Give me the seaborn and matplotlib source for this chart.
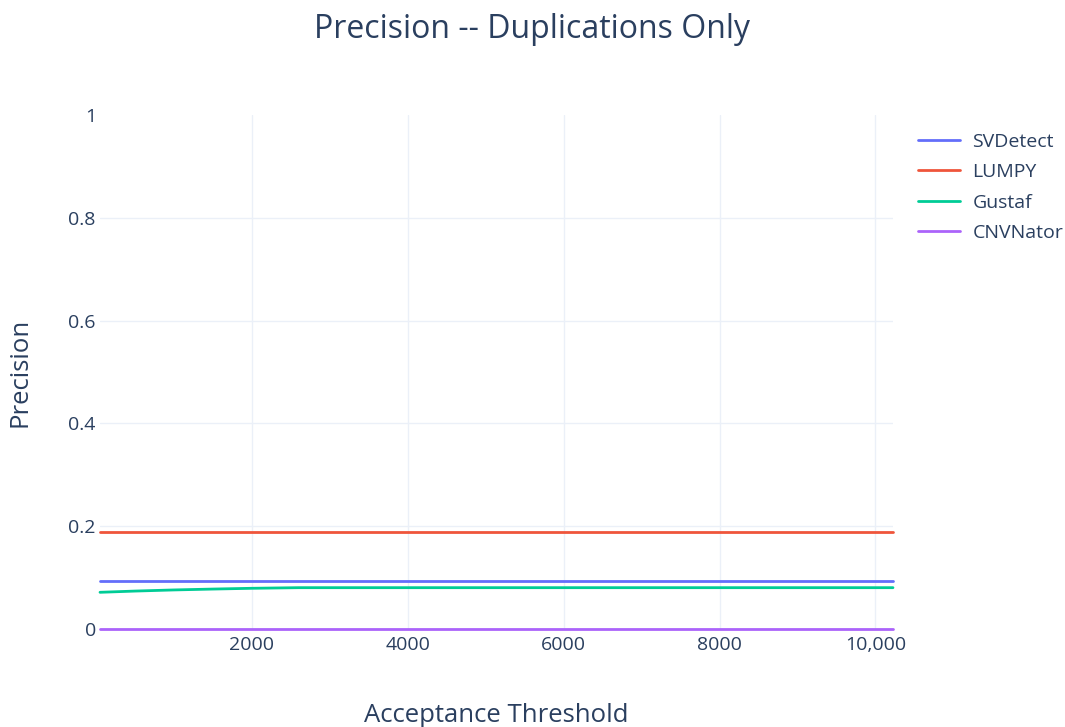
import numpy as np
import pandas as pd
import seaborn as sns
import matplotlib.pyplot as plt
import matplotlib.ticker as ticker

# acceptance thresholds (x) and precision per tool
thresholds = [50, 500, 1000, 1500, 2000, 2600, 3000, 4000, 5000, 6000, 7000, 8000, 9000, 10000, 10225]
svdetect = [0.094] * 15
lumpy = [0.1887] * 15
gustaf = [0.0714, 0.0738, 0.0760, 0.0777, 0.0792, 0.0804, 0.0804, 0.0804, 0.0804,
          0.0804, 0.0804, 0.0804, 0.0804, 0.0804, 0.0804]
cnvnator = [0.0] * 15

tools = ['SVDetect', 'LUMPY', 'Gustaf', 'CNVNator']
colors = ['#636efa', '#EF553B', '#00cc96', '#ab63fa']

xtick_vals = [2000, 4000, 6000, 8000, 10000]
xtick_labels = ['2000', '4000', '6000', '8000', '10,000']
ytick_vals = [0, 0.2, 0.4, 0.6, 0.8, 1]
ytick_labels = ['0', '0.2', '0.4', '0.6', '0.8', '1']

df = pd.DataFrame({
    'Acceptance Threshold': thresholds * 4,
    'Precision': svdetect + lumpy + gustaf + cnvnator,
    'tool': [t for t in tools for _ in thresholds],
})

sns.set_style('white')
plt.rcParams['font.family'] = ['Open Sans', 'DejaVu Sans']
txt = '#2a3f5f'

fig, ax = plt.subplots(figsize=(10.65, 7.27), dpi=100)
fig.subplots_adjust(left=100/1065, right=893/1065, top=1-115/727, bottom=1-629/727)

sns.lineplot(data=df, x='Acceptance Threshold', y='Precision', hue='tool',
             hue_order=tools, palette=colors, linewidth=2.0, ax=ax, clip_on=False)

ax.set_xlim(50, 10225)
ax.set_ylim(0, 1)
ax.set_xticks(xtick_vals)
ax.set_xticklabels(xtick_labels)
ax.set_yticks(ytick_vals)
ax.set_yticklabels(ytick_labels)
ax.tick_params(axis='both', length=0, labelsize=14, labelcolor=txt)
ax.tick_params(axis='x', pad=5)
ax.tick_params(axis='y', pad=3)
ax.grid(True, color='#EBF0F8', linewidth=1.0)
ax.yaxis.get_gridlines()[-1].set_visible(False)
ax.set_axisbelow(True)
for s in ax.spines.values():
    s.set_visible(False)

ax.set_xlabel('Acceptance Threshold', fontsize=18.5, color=txt)
ax.set_ylabel('Precision', fontsize=18.5, color=txt)
ax.xaxis.set_label_coords(0.5, -(703-629)/514)
ax.yaxis.set_label_coords(-(100-33)/793, 0.5)

fig.suptitle('Precision -- Duplications Only', x=0.5, y=1-29/727, va='center',
             fontsize=23, color=txt)

leg = ax.legend(loc='upper left', bbox_to_anchor=(918/1065, 1-133/727),
                bbox_transform=fig.transFigure, frameon=False, fontsize=14,
                handlelength=2.15, handletextpad=0.65, labelspacing=0.63,
                borderpad=0, borderaxespad=0)
for t in leg.get_texts():
    t.set_color(txt)

fig.savefig('out.png', dpi=100)
